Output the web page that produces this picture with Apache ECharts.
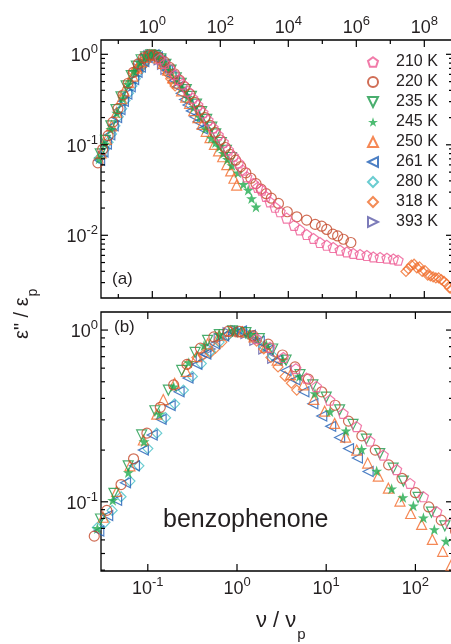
<!DOCTYPE html>
<html><head><meta charset="utf-8">
<script src="https://cdn.jsdelivr.net/npm/echarts@6/dist/echarts.min.js"></script>
<style>html,body{margin:0;padding:0;background:#fff}#c{width:451px;height:644px}</style>
</head><body><div id="c"></div>
<script>
const FONT = '"Liberation Sans", Arial, Helvetica, sans-serif';
const TXT = '#231f20';

// ---------- data (nu/nu_p , eps''/eps_p) ----------
const T210_x = [1.66, 2.344, 3.311, 4.571, 6.026, 7.762, 10.96, 15.49, 21.88, 30.90, 43.65, 61.66, 87.10, 123.0, 173.8, 245.5, 346.7, 457.1, 602.6, 933.3, 1259, 1660, 2188, 2884, 4074, 5754, 8913, 14790, 21880, 34670, 54950, 85110, 134900, 208900, 331100, 524800, 812800, 1288000, 2042000, 3162000, 5012000, 7943000, 12300000, 16980000];
const T210_y = [0.891, 0.794, 0.692, 0.596, 0.525, 0.469, 0.391, 0.327, 0.274, 0.226, 0.187, 0.154, 0.128, 0.107, 0.0875, 0.0748, 0.0631, 0.0525, 0.0443, 0.0374, 0.0339, 0.0316, 0.0269, 0.0234, 0.0204, 0.0182, 0.0155, 0.0129, 0.0115, 0.0102, 0.00923, 0.00832, 0.00776, 0.00733, 0.00684, 0.00655, 0.00630, 0.00614, 0.00598, 0.00577, 0.00568, 0.00558, 0.00548, 0.00531];

const T220_x = [0.0251, 0.0347, 0.0501, 0.0692, 0.0977, 0.138, 0.195, 0.275, 0.389, 0.550, 0.794, 1.072, 1.514, 2.239, 3.236, 4.467, 6.310, 8.913, 12.59, 17.78, 25.12, 35.48, 50.12, 70.79, 100, 141.3, 195, 281.8, 398.1, 562.3, 794.3, 1122, 1585, 2239, 3162, 5129, 9333, 17780, 34670, 61660, 95500, 134900, 204200, 281800, 416900, 691800];
const T220_y = [0.0631, 0.0891, 0.126, 0.178, 0.251, 0.355, 0.479, 0.631, 0.785, 0.912, 0.982, 0.982, 0.927, 0.828, 0.716, 0.610, 0.518, 0.437, 0.365, 0.295, 0.242, 0.200, 0.164, 0.137, 0.113, 0.0933, 0.0782, 0.0676, 0.0575, 0.0490, 0.0427, 0.0372, 0.0324, 0.0288, 0.0257, 0.0225, 0.0182, 0.0160, 0.0147, 0.0132, 0.0126, 0.0116, 0.0103, 0.00984, 0.00904, 0.00832];

const T235_x = [0.0295, 0.0417, 0.0603, 0.0853, 0.120, 0.170, 0.240, 0.339, 0.468, 0.634, 0.891, 1.259, 1.778, 2.512, 3.548, 5.082, 7.079, 10.0, 14.13, 19.95, 28.18, 39.81, 56.23, 73.28, 107.2, 151.4, 213.8];
const T235_y = [0.0794, 0.112, 0.162, 0.245, 0.339, 0.447, 0.582, 0.741, 0.871, 0.940, 0.989, 0.966, 0.891, 0.776, 0.668, 0.550, 0.479, 0.407, 0.343, 0.282, 0.232, 0.191, 0.157, 0.132, 0.106, 0.0871, 0.0724];

const T245_x = [0.0272, 0.0404, 0.0605, 0.0906, 0.135, 0.195, 0.288, 0.427, 0.631, 0.933, 1.413, 2.138, 3.281, 5.012, 7.482, 11.04, 16.67, 24.95, 36.81, 54.20, 72.4, 94.84, 123.0, 163.0, 220.3, 331.1, 478.6, 660.7, 831.8, 1122];
const T245_y = [0.0700, 0.102, 0.148, 0.224, 0.325, 0.468, 0.646, 0.813, 0.944, 0.993, 0.944, 0.822, 0.671, 0.537, 0.427, 0.335, 0.259, 0.202, 0.151, 0.119, 0.106, 0.0948, 0.0807, 0.0690, 0.0590, 0.0490, 0.0367, 0.0316, 0.0255, 0.0206];

const T250_x = [0.0316, 0.0447, 0.0631, 0.0891, 0.126, 0.149, 0.200, 0.269, 0.353, 0.468, 0.631, 0.851, 1.148, 1.549, 2.089, 2.818, 3.981, 5.546, 7.244, 9.616, 12.45, 16.52, 21.98, 29.17, 38.37, 49.77, 67.14, 88.51, 117.5, 154.9, 202.3, 251.2, 302];
const T250_y = [0.0813, 0.115, 0.162, 0.229, 0.324, 0.394, 0.490, 0.574, 0.701, 0.832, 0.933, 0.989, 0.977, 0.912, 0.794, 0.668, 0.550, 0.480, 0.395, 0.337, 0.286, 0.238, 0.200, 0.168, 0.141, 0.120, 0.101, 0.0855, 0.0738, 0.0604, 0.0515, 0.0427, 0.0358];

const T261_x = [0.0282, 0.0355, 0.0447, 0.0562, 0.0708, 0.0891, 0.112, 0.141, 0.178, 0.224, 0.282, 0.355, 0.447, 0.562, 0.708, 0.891, 1.122, 1.413, 1.778, 2.239, 2.818, 3.548, 4.467, 5.623, 7.079, 8.913, 11.22, 14.13, 17.78, 22.39, 29.51];
const T261_y = [0.0676, 0.0832, 0.102, 0.129, 0.162, 0.200, 0.245, 0.302, 0.363, 0.437, 0.525, 0.631, 0.724, 0.832, 0.923, 0.977, 0.989, 0.933, 0.861, 0.767, 0.668, 0.582, 0.513, 0.437, 0.372, 0.316, 0.275, 0.237, 0.204, 0.180, 0.150];

const T280_x = [0.0272, 0.0331, 0.0398, 0.0501, 0.0631, 0.0794, 0.100, 0.126, 0.158, 0.200, 0.251, 0.316, 0.398, 0.501, 0.631, 0.794, 1.0, 1.259, 1.585, 1.995, 2.512];
const T280_y = [0.0708, 0.0759, 0.0891, 0.107, 0.132, 0.162, 0.204, 0.251, 0.309, 0.372, 0.447, 0.537, 0.638, 0.750, 0.851, 0.933, 0.977, 0.955, 0.891, 0.804, 0.708];

const T318_x = [0.282, 0.355, 0.417, 0.501, 0.575, 0.676, 0.794, 0.955, 1.148, 1.380, 1.660, 1.995, 2.399, 2.884, 3.467, 4.074, 4.677, 2.884e7, 3.388e7, 4.169e7, 5.012e7, 6.026e7, 7.244e7, 8.710e7, 1.047e8, 1.259e8, 1.514e8, 1.820e8, 2.188e8, 2.630e8, 3.162e8, 3.802e8, 4.571e8, 5.495e8, 6.607e8];
const T318_y = [0.631, 0.692, 0.716, 0.735, 0.785, 0.851, 0.933, 0.977, 0.977, 0.933, 0.861, 0.776, 0.692, 0.610, 0.537, 0.490, 0.447, 0.00398, 0.00427, 0.00468, 0.00479, 0.00437, 0.00447, 0.00398, 0.00407, 0.00363, 0.00355, 0.00347, 0.00339, 0.00339, 0.00324, 0.00309, 0.00288, 0.00263, 0.00251];

const T393_x = [0.398, 0.501, 0.631, 0.794, 1.0, 1.259, 1.585, 1.995, 2.512];
const T393_y = [0.692, 0.776, 0.891, 0.966, 0.989, 0.955, 0.871, 0.776, 0.684];

// ---------- axes / ticks ----------
const A_xMajor = [1, 1e2, 1e4, 1e6, 1e8];
const A_xMajorExp = ['0', '2', '4', '6', '8'];
const A_xMinor = [0.1, 10, 1e3, 1e5, 1e7];
const A_yMajor = [1, 0.1, 0.01];
const A_yMajorExp = ['0', '-1', '-2'];
const A_yMinor = [0.003, 0.004, 0.005, 0.006, 0.007, 0.008, 0.009, 0.02, 0.03, 0.04, 0.05, 0.06, 0.07, 0.08, 0.09, 0.2, 0.3, 0.4, 0.5, 0.6, 0.7, 0.8, 0.9];
const B_xMajor = [0.1, 1, 10, 100];
const B_xMajorExp = ['-1', '0', '1', '2'];
const B_xMinor = [];
const B_yMajor = [1, 0.1];
const B_yMajorExp = ['0', '-1'];
const B_yMinor = [0.04, 0.05, 0.06, 0.07, 0.08, 0.09, 0.2, 0.3, 0.4, 0.5, 0.6, 0.7, 0.8, 0.9];

const panels = [
  {xMin: 0.03097, xMax: 6.98e8, yMin: 0.002028, yMax: 1.439,
   xMaj: A_xMajor, xExp: A_xMajorExp, xMin_: A_xMinor, yMaj: A_yMajor, yExp: A_yMajorExp, yMin_: A_yMinor, xLabelTop: true},
  {xMin: 0.02987, xMax: 264, yMin: 0.03954, yMax: 1.274,
   xMaj: B_xMajor, xExp: B_xMajorExp, xMin_: B_xMinor, yMaj: B_yMajor, yExp: B_yMajorExp, yMin_: B_yMinor, xLabelTop: false}
];

const PENTAGON = 'path://M0,-1 L0.951,-0.309 L0.588,0.809 L-0.588,0.809 L-0.951,-0.309 Z';
const STAR = 'path://M0,-1 L0.2245,-0.309 L0.951,-0.309 L0.363,0.118 L0.588,0.809 L0,0.382 L-0.588,0.809 L-0.363,0.118 L-0.951,-0.309 L-0.2245,-0.309 Z';
const TRI_UP = 'path://M0,-1 L1,1 L-1,1 Z';
const TRI_DOWN = 'path://M-1,-1 L1,-1 L0,1 Z';
const TRI_LEFT = 'path://M-1,0 L1,-1 L1,1 Z';
const TRI_RIGHT = 'path://M1,0 L-1,-1 L-1,1 Z';
const DIAMOND = 'path://M0,-1 L1,0 L0,1 L-1,0 Z';
const CIRCLE = 'circle';

const defs = [
  {name: '210 K', x: T210_x, y: T210_y, color: '#ee5a93', symbol: PENTAGON, size: 10, filled: false},
  {name: '220 K', x: T220_x, y: T220_y, color: '#c4482b', symbol: CIRCLE, size: 10, filled: false},
  {name: '235 K', x: T235_x, y: T235_y, color: '#1b9a4a', symbol: TRI_DOWN, size: 10, filled: false},
  {name: '245 K', x: T245_x, y: T245_y, color: '#21ab4f', symbol: STAR, size: 11, filled: true},
  {name: '250 K', x: T250_x, y: T250_y, color: '#f26a2a', symbol: TRI_UP, size: 10, filled: false},
  {name: '261 K', x: T261_x, y: T261_y, color: '#1f5fb5', symbol: TRI_LEFT, size: 10, filled: false},
  {name: '280 K', x: T280_x, y: T280_y, color: '#45bfc6', symbol: DIAMOND, size: 10, filled: false},
  {name: '318 K', x: T318_x, y: T318_y, color: '#f06e2c', symbol: DIAMOND, size: 10, filled: false},
  {name: '393 K', x: T393_x, y: T393_y, color: '#5b5aa8', symbol: TRI_RIGHT, size: 10, filled: false}
];

const MAJ = 7, MIN = 4;
function supText(e) {
  return {
    text: '{b|10}{s|' + e + '}',
    rich: {
      b: {fontSize: 18, fontFamily: FONT, fill: TXT, lineHeight: 22, verticalAlign: 'bottom'},
      s: {fontSize: 13, fontFamily: FONT, fill: TXT, lineHeight: 13, verticalAlign: 'top'}
    },
    fill: TXT
  };
}
function makeTicks(p) {
  return function (params, api) {
    const ch = [];
    const ln = (x1, y1, x2, y2) => ({type: 'line', silent: true, shape: {x1, y1, x2, y2}, style: {stroke: '#000', lineWidth: 1.2}});
    const txt = (x, y, e, align, va) => {
      const st = supText(e); st.align = align; st.verticalAlign = va;
      return {type: 'text', silent: true, x, y, style: st};
    };
    p.xMaj.forEach((v, i) => {
      const a = api.coord([v, p.yMax]), b = api.coord([v, p.yMin]);
      ch.push(ln(a[0], a[1], a[0], a[1] + MAJ), ln(b[0], b[1], b[0], b[1] - MAJ));
      if (p.xLabelTop) ch.push(txt(a[0], a[1] - 3, p.xExp[i], 'center', 'bottom'));
      else ch.push(txt(b[0], b[1] + 5, p.xExp[i], 'center', 'top'));
    });
    p.xMin_.forEach(v => {
      const a = api.coord([v, p.yMax]), b = api.coord([v, p.yMin]);
      ch.push(ln(a[0], a[1], a[0], a[1] + MIN), ln(b[0], b[1], b[0], b[1] - MIN));
    });
    p.yMaj.forEach((v, i) => {
      const a = api.coord([p.xMin, v]), b = api.coord([p.xMax, v]);
      ch.push(ln(a[0], a[1], a[0] + MAJ, a[1]), ln(b[0], b[1], b[0] - MAJ, b[1]));
      ch.push(txt(a[0] - 3, a[1], p.yExp[i], 'right', 'middle'));
    });
    p.yMin_.forEach(v => {
      const a = api.coord([p.xMin, v]), b = api.coord([p.xMax, v]);
      ch.push(ln(a[0], a[1], a[0] + MIN, a[1]), ln(b[0], b[1], b[0] - MIN, b[1]));
    });
    return {type: 'group', children: ch};
  };
}

const series = [];
[0, 1].forEach(g => {
  defs.slice().reverse().forEach(d => {
    series.push({
      type: 'scatter', name: d.name, xAxisIndex: g, yAxisIndex: g,
      data: d.x.map((v, i) => [v, d.y[i]]),
      symbol: d.symbol, symbolSize: d.size, clip: false,
      itemStyle: d.filled ? {color: d.color, borderWidth: 0} : {color: 'rgba(255,255,255,0)', borderColor: d.color, borderWidth: 1.2},
      emphasis: {disabled: true}, silent: true
    });
  });
  series.push({
    type: 'custom', xAxisIndex: g, yAxisIndex: g, data: [[1, 0.5]], z: 5, silent: true, clip: false,
    renderItem: makeTicks(panels[g])
  });
});

// text measuring for titles with subscripts
const mctx = document.createElement('canvas').getContext('2d');
function tw(t, size) { mctx.font = size + 'px ' + FONT; return mctx.measureText(t).width; }
const XT_MAIN = 'ν / ν', YT_MAIN = 'ε" / ε';
const xtW = tw(XT_MAIN, 22), ytW = tw(YT_MAIN, 20);

const axisHidden = {axisLine: {show: false}, axisTick: {show: false}, axisLabel: {show: false}, splitLine: {show: false}};
const chart = echarts.init(document.getElementById('c'), null, {renderer: 'canvas'});
chart.setOption({
  animation: false,
  backgroundColor: '#fff',
  grid: [
    {left: 101, top: 40, width: 352, height: 258, show: true, borderColor: '#000', borderWidth: 1.3, backgroundColor: 'transparent', containLabel: false, outerBoundsMode: 'none'},
    {left: 101, top: 312, width: 352, height: 259, show: true, borderColor: '#000', borderWidth: 1.3, backgroundColor: 'transparent', containLabel: false, outerBoundsMode: 'none'}
  ],
  xAxis: panels.map((p, g) => Object.assign({type: 'log', logBase: 10, gridIndex: g, min: p.xMin, max: p.xMax}, axisHidden)),
  yAxis: panels.map((p, g) => Object.assign({type: 'log', logBase: 10, gridIndex: g, min: p.yMin, max: p.yMax}, axisHidden)),
  legend: {
    data: defs.map(d => ({name: d.name, icon: d.symbol})), orient: 'vertical', left: 367, top: 54, padding: 0,
    itemWidth: 10, itemHeight: 10, itemGap: 4, selectedMode: false,
    textStyle: {fontSize: 16, fontFamily: FONT, color: TXT, lineHeight: 16, padding: [0, 0, 0, 13]}
  },
  graphic: [
    {type: 'text', left: 112, top: 271, style: {text: '(a)', fontSize: 17, fontFamily: FONT, fill: TXT}},
    {type: 'text', left: 114, top: 319, style: {text: '(b)', fontSize: 17, fontFamily: FONT, fill: TXT}},
    {type: 'text', left: 163, top: 508, style: {text: 'benzophenone', fontSize: 25, fontFamily: FONT, fill: TXT}},
    {type: 'group', x: 0, y: 0, children: [
      {type: 'text', x: 256, y: 620.5, style: {text: XT_MAIN, fontSize: 22, fontFamily: FONT, fill: TXT, verticalAlign: 'middle', align: 'left'}},
      {type: 'text', x: 256 + xtW + 1, y: 635, style: {text: 'p', fontSize: 15, fontFamily: FONT, fill: TXT, verticalAlign: 'middle', align: 'left'}}
    ]},
    {type: 'group', x: 22, y: 339, rotation: Math.PI / 2, children: [
      {type: 'text', x: 0, y: 0, style: {text: YT_MAIN, fontSize: 20, fontFamily: FONT, fill: TXT, verticalAlign: 'middle', align: 'left'}},
      {type: 'text', x: ytW + 1, y: 11, style: {text: 'p', fontSize: 14, fontFamily: FONT, fill: TXT, verticalAlign: 'middle', align: 'left'}}
    ]}
  ],
  series: series
});
</script></body></html>
